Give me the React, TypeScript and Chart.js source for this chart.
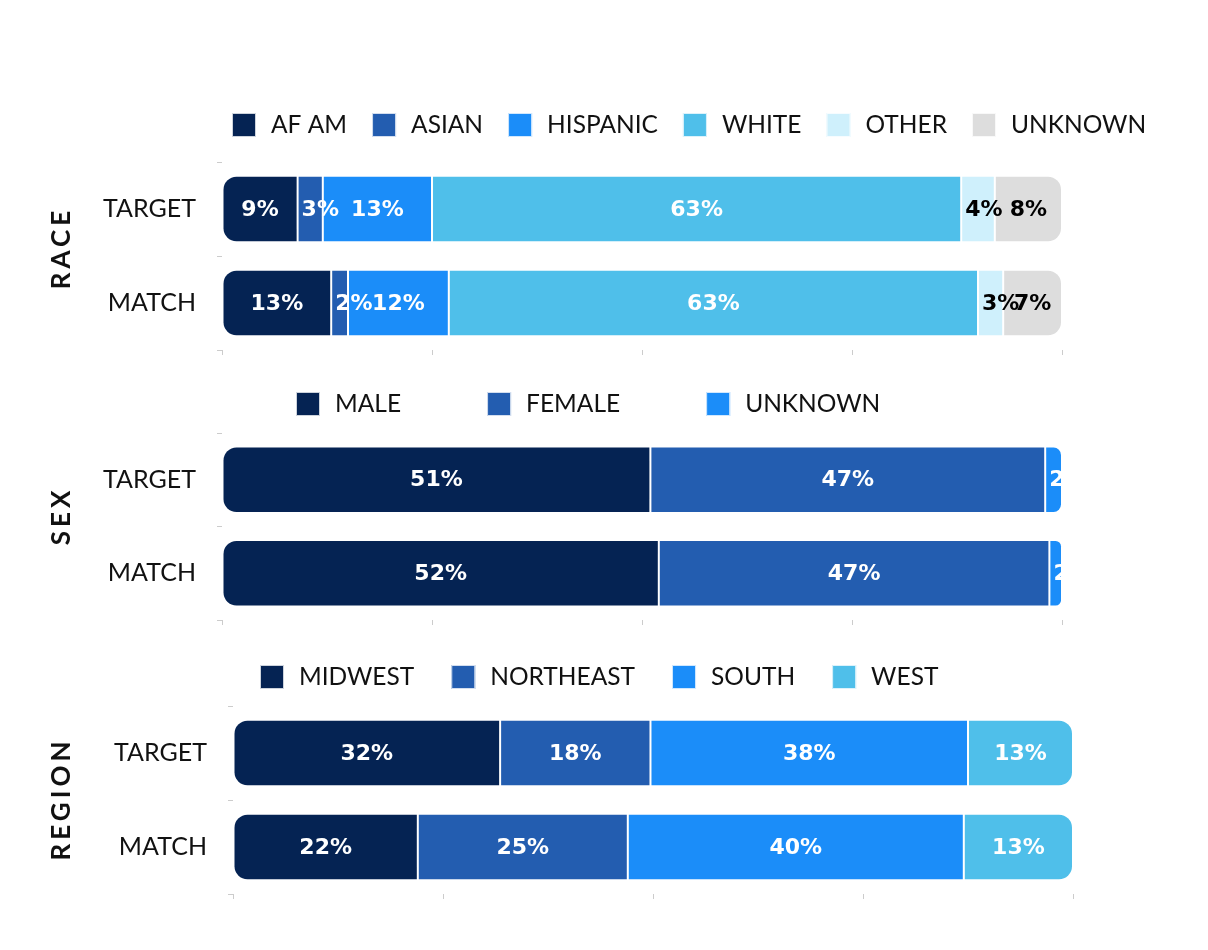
import React, { useEffect, useRef } from "react";
import { Chart, registerables } from "chart.js";

Chart.register(...registerables);

// ---------- data ----------
const rowLabels = ["TARGET", "MATCH"];
const xTicks = [0, 25, 50, 75, 100];

const raceCategories = ["AF AM", "ASIAN", "HISPANIC", "WHITE", "OTHER", "UNKNOWN"];
const raceTarget = [9, 3, 13, 63, 4, 8];
const raceMatch = [13, 2, 12, 63, 3, 7];

const sexCategories = ["MALE", "FEMALE", "UNKNOWN"];
const sexTarget = [51, 47, 2];
const sexMatch = [52, 46.5, 1.5];

const regionCategories = ["MIDWEST", "NORTHEAST", "SOUTH", "WEST"];
const regionTarget = [31.8, 17.9, 37.8, 12.5];
const regionMatch = [22, 25, 40, 13];

// ---------- styles ----------
const NAVY = "#052353";
const MID_BLUE = "#235DB0";
const BRIGHT_BLUE = "#1B8DF9";
const SKY = "#4FBFEA";
const PALE = "#CFF0FC";
const GREY = "#DDDDDD";

const raceColors = [NAVY, MID_BLUE, BRIGHT_BLUE, SKY, PALE, GREY];
const raceLabelColors = ["#fff", "#fff", "#fff", "#fff", "#000", "#000"];
const sexColors = [NAVY, MID_BLUE, BRIGHT_BLUE];
const sexLabelColors = ["#fff", "#fff", "#fff"];
const regionColors = [NAVY, MID_BLUE, BRIGHT_BLUE, SKY];
const regionLabelColors = ["#fff", "#fff", "#fff", "#fff"];

type PanelCfg = {
  title: string;
  categories: string[];
  target: number[];
  match: number[];
  colors: string[];
  labelColors: string[];
  top: number;
  height: number;
  padTop: number;
  padBottom: number;
  yWidth: number;
  padRight: number;
  legendX: number;
  legendY: number;
  legendGap: number;
  titleY: number;
};

const panels: PanelCfg[] = [
  {
    title: "RACE",
    categories: raceCategories,
    target: raceTarget,
    match: raceMatch,
    colors: raceColors,
    labelColors: raceLabelColors,
    top: 90,
    height: 280,
    padTop: 72,
    padBottom: 12,
    yWidth: 222,
    padRight: 146,
    legendX: 232,
    legendY: 35,
    legendGap: 25,
    titleY: 160,
  },
  {
    title: "SEX",
    categories: sexCategories,
    target: sexTarget,
    match: sexMatch,
    colors: sexColors,
    labelColors: sexLabelColors,
    top: 370,
    height: 270,
    padTop: 63,
    padBottom: 12,
    yWidth: 222,
    padRight: 146,
    legendX: 296,
    legendY: 34,
    legendGap: 86,
    titleY: 148,
  },
  {
    title: "REGION",
    categories: regionCategories,
    target: regionTarget,
    match: regionMatch,
    colors: regionColors,
    labelColors: regionLabelColors,
    top: 640,
    height: 270,
    padTop: 66,
    padBottom: 8,
    yWidth: 233,
    padRight: 135,
    legendX: 260,
    legendY: 37,
    legendGap: 37,
    titleY: 161,
  },
];

const RADIUS = 14;

function makeDecorPlugin(cfg: PanelCfg) {
  return {
    id: "decor_" + cfg.title,
    afterDatasetsDraw(chart: any) {
      const ctx = chart.ctx as CanvasRenderingContext2D;
      const area = chart.chartArea;
      ctx.save();
      ctx.beginPath();
      ctx.rect(area.left, area.top, area.right - area.left, area.bottom - area.top);
      ctx.clip();
      ctx.font = "bold 22px 'DejaVu Sans', sans-serif";
      ctx.textBaseline = "middle";
      ctx.textAlign = "left";
      chart.data.datasets.forEach((ds: any, i: number) => {
        const meta = chart.getDatasetMeta(i);
        meta.data.forEach((el: any, j: number) => {
          const p = el.getProps(["x", "base", "y"], true);
          const left = Math.min(p.x, p.base);
          const right = Math.max(p.x, p.base);
          const text = `${Math.round(ds.data[j])}%`;
          const w = ctx.measureText(text).width;
          const center = (left + right) / 2;
          const sx = Math.max(center - w / 2, left + 4);
          ctx.fillStyle = cfg.labelColors[i];
          ctx.fillText(text, sx, p.y + 1);
        });
      });
      ctx.restore();
    },
    afterDraw(chart: any) {
      const ctx = chart.ctx as CanvasRenderingContext2D;
      // legend
      ctx.save();
      ctx.font = "400 24.5px Lato, sans-serif";
      ctx.textBaseline = "middle";
      ctx.textAlign = "left";
      let x = cfg.legendX;
      cfg.categories.forEach((c, i) => {
        ctx.fillStyle = cfg.colors[i];
        ctx.fillRect(x, cfg.legendY - 12, 24, 24);
        ctx.strokeStyle = "rgba(255,255,255,0.8)";
        ctx.lineWidth = 1;
        ctx.strokeRect(x + 0.5, cfg.legendY - 11.5, 23, 23);
        ctx.fillStyle = "#111";
        ctx.fillText(c, x + 39, cfg.legendY);
        x += 39 + ctx.measureText(c).width + cfg.legendGap;
      });
      ctx.restore();
      // axis title
      ctx.save();
      ctx.font = "700 26px Lato, sans-serif";
      (ctx as any).letterSpacing = "4px";
      ctx.fillStyle = "#111";
      ctx.textAlign = "center";
      ctx.textBaseline = "middle";
      ctx.translate(62, cfg.titleY);
      ctx.rotate(-Math.PI / 2);
      ctx.fillText(cfg.title, 2, 0);
      ctx.restore();
    },
  };
}

function Panel({ cfg }: { cfg: PanelCfg }) {
  const ref = useRef<HTMLCanvasElement>(null);
  useEffect(() => {
    const n = cfg.categories.length;
    const datasets = cfg.categories.map((c, i) => {
      let radius: any;
      if (i === 0) radius = { topLeft: RADIUS, bottomLeft: RADIUS, topRight: 0, bottomRight: 0 };
      else if (i === n - 1) radius = { topLeft: 0, bottomLeft: 0, topRight: RADIUS, bottomRight: RADIUS };
      else radius = { topLeft: 0, bottomLeft: 0, topRight: 0, bottomRight: 0 };
      return {
        label: c,
        data: [cfg.target[i], cfg.match[i]],
        backgroundColor: cfg.colors[i],
        borderColor: "#ffffff",
        borderWidth: 1,
        borderSkipped: false,
        borderRadius: radius,
        barPercentage: 0.71,
        categoryPercentage: 1,
        clip: 0,
      };
    });
    const chart = new Chart(ref.current as HTMLCanvasElement, {
      type: "bar",
      data: { labels: rowLabels, datasets: datasets as any },
      options: {
        indexAxis: "y",
        animation: false,
        responsive: false,
        layout: {
          padding: { top: cfg.padTop, bottom: cfg.padBottom, left: 0, right: cfg.padRight },
        },
        plugins: {
          legend: { display: false },
          tooltip: { enabled: false },
          title: { display: false },
        },
        scales: {
          x: {
            type: "linear",
            stacked: true,
            min: xTicks[0],
            max: xTicks[xTicks.length - 1],
            afterBuildTicks: (s: any) => {
              s.ticks = xTicks.map((v) => ({ value: v }));
            },
            ticks: { display: false },
            grid: { drawOnChartArea: false, drawTicks: true, tickLength: 5, color: "#cccccc" },
            border: { display: false },
            afterFit: (s: any) => {
              s.height = 8;
              s.paddingLeft = 0;
              s.paddingRight = 0;
            },
          },
          y: {
            stacked: true,
            ticks: {
              padding: 21,
              color: "#111",
              font: { family: "Lato, sans-serif", size: 25, weight: 400 as any },
            },
            grid: { drawOnChartArea: false, drawTicks: true, tickLength: 5, color: "#cccccc", offset: true },
            border: { display: false },
            afterFit: (s: any) => {
              s.width = cfg.yWidth;
              s.paddingTop = 0;
              s.paddingBottom = 0;
            },
          },
        },
      },
      plugins: [makeDecorPlugin(cfg)],
    });
    return () => chart.destroy();
  }, [cfg]);
  return (
    <div style={{ position: "absolute", left: 0, top: cfg.top, width: 1208, height: cfg.height }}>
      <canvas ref={ref} width={1208} height={cfg.height} style={{ display: "block" }} />
    </div>
  );
}

export default function App() {
  return (
    <div style={{ position: "absolute", left: 0, top: 0, width: 1208, height: 950, background: "#fff", overflow: "hidden" }}>
      {panels.map((p) => (
        <Panel key={p.title} cfg={p} />
      ))}
    </div>
  );
}
